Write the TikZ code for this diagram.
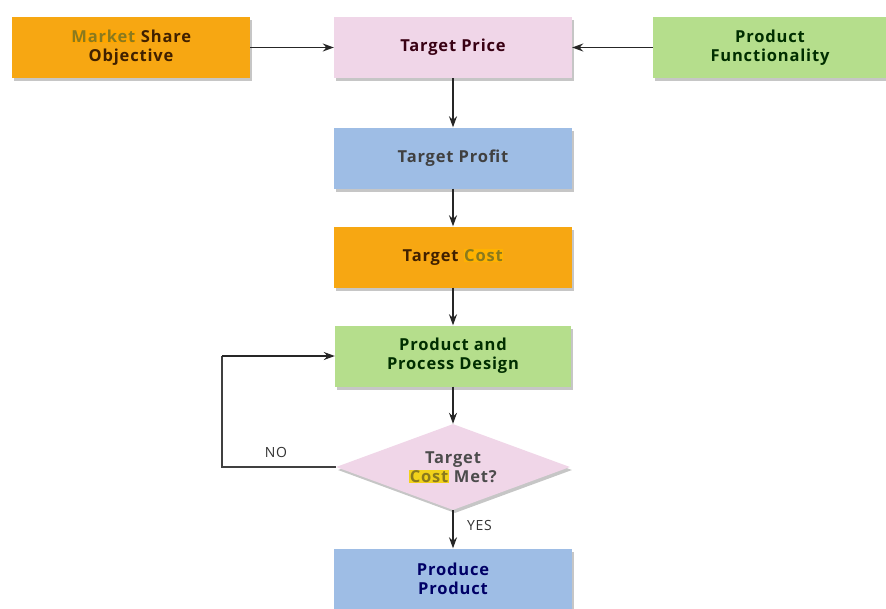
\documentclass[tikz,border=0pt]{standalone}
\usepackage{fontspec}
\setmainfont{Open Sans}[LetterSpace=5]
\usetikzlibrary{shapes.geometric,shadows,arrows.meta}
\definecolor{boxorange}{HTML}{F7A712}
\definecolor{boxpink}{HTML}{F0D6E8}
\definecolor{boxgreen}{HTML}{B5DE8C}
\definecolor{boxblue}{HTML}{9EBDE5}
\definecolor{hlyellow}{HTML}{F2D21A}
\definecolor{hltext}{HTML}{8A7A1E}
\newcommand{\hlword}[2][hlyellow]{{\setlength{\fboxsep}{0.5pt}\colorbox{#1}{\color{hltext}#2}}}
\begin{document}
\begin{tikzpicture}[x=1pt,y=-1pt,
  every node/.style={font=\fontsize{16.5}{19}\selectfont\bfseries},
  flowbox/.style={rectangle, minimum width=238pt, minimum height=61pt, align=center,
    drop shadow={shadow xshift=2pt, shadow yshift=-3pt, opacity=0.45, fill=gray}},
  decision/.style={diamond, aspect=2.75, minimum width=234pt, minimum height=86pt, inner sep=0pt,
    align=center, fill=boxpink, text=black!70,
    drop shadow={shadow xshift=2pt, shadow yshift=-3pt, opacity=0.45, fill=gray}},
  flowarrow/.style={draw=black!85, line width=1.4pt, -{Stealth[length=11pt,width=8pt]}},
  flowline/.style={draw=black!75, line width=1.2pt},
  lbl/.style={font=\fontsize{14}{16}\selectfont, text=black!80}]
\useasboundingbox (0,0) rectangle (886,608);

\node[flowbox, fill=boxorange, text=black!75!orange] (market) at (131,47.5)
  {\hlword[orange!70!yellow]{Market} Share\\Objective};
\node[flowbox, fill=boxpink, text=black!70!purple] (price) at (453,47.5) {Target Price};
\node[flowbox, fill=boxgreen, minimum width=234pt, text=black!70!green!60!black] (func) at (770,47.5)
  {Product\\Functionality};
\node[flowbox, fill=boxblue, text=black!75] (profit) at (453,158) {Target Profit};
\node[flowbox, fill=boxorange, text=black!75!orange] (cost) at (453,257)
  {Target \hlword[orange!60!yellow]{Cost}};
\node[flowbox, fill=boxgreen, minimum width=236pt, text=black!70!green!60!black] (design) at (453,356)
  {Product and\\Process Design};
\node[decision] (check) at (453,467) {Target\\\hlword{Cost} Met?};
\node[flowbox, fill=boxblue, text=blue!40!black] (produce) at (453,579) {Produce\\Product};

\draw[flowarrow] (market) -- (price);
\draw[flowarrow] (func) -- (price);
\draw[flowarrow] (price) -- (profit);
\draw[flowarrow] (profit) -- (cost);
\draw[flowarrow] (cost) -- (design);
\draw[flowarrow] (design) -- (check);
\draw[flowarrow] (check) -- node[lbl, right=10pt, pos=0.4] {YES} (produce);

\coordinate (loopdown) at (222,467);
\coordinate (loopup) at (222,356);
\draw[flowline] (check.west) -- (loopdown) -- (loopup);
\draw[flowarrow] (loopup) -- (design.west);
\node[lbl] (no) at (276,452) {NO};
\end{tikzpicture}
\end{document}
